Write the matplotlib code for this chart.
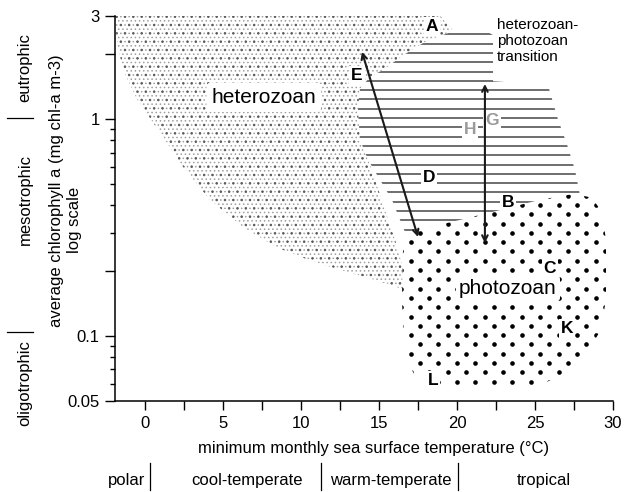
import numpy as np
import matplotlib
matplotlib.use("Agg")
import matplotlib.pyplot as plt
from matplotlib.patches import Polygon
from matplotlib.collections import LineCollection
from matplotlib.lines import Line2D
from matplotlib.ticker import FixedLocator, FixedFormatter, NullFormatter

plt.rcParams['font.family'] = ['Liberation Sans', 'DejaVu Sans']
plt.rcParams['hatch.linewidth'] = 0.6

# ---------------- data ----------------
x_major_ticks = [0, 5, 10, 15, 20, 25, 30]
x_minor_ticks = [2.5, 7.5, 12.5, 17.5, 22.5, 27.5]
y_major_ticks = [0.05, 0.1, 0.2, 1, 2, 3]
y_major_labels = ['0.05', '0.1', '', '1', '', '3']
y_minor_ticks = [0.06, 0.07, 0.08, 0.09, 0.3, 0.4, 0.5, 0.6, 0.7, 0.8, 0.9]

# heterozoan field (temperature, chlorophyll)
hetero_x = [-1.92, 18.91, 19.68, 16.03, 14.10, 16.03, 16.99, 15.90, 14.87, 12.69,
            10.58, 8.46, 6.28, 4.17, 2.44, 0.96, -0.51, -1.28, -1.73, -1.92]
hetero_y = [3.0, 3.0, 2.62, 1.307, 0.725, 0.277, 0.158, 0.171, 0.180, 0.200,
            0.223, 0.256, 0.318, 0.425, 0.604, 0.870, 1.239, 1.619, 2.117, 2.77]

# heterozoan-photozoan transition field
trans_x = [20.2, 21.6, 22.31, 22.31, 25.83, 26.47, 27.05, 27.56, 27.88, 26.6,
           18.27, 16.67, 15.83, 15.06, 14.29, 13.78, 13.65, 13.78, 14.42, 15.38,
           16.15, 16.99, 18.1]
trans_y = [2.62, 2.62, 2.45, 1.50, 1.44, 1.0, 0.766, 0.585, 0.448, 0.361,
           0.288, 0.301, 0.425, 0.526, 0.652, 0.807, 1.11, 1.38, 1.57, 1.71,
           1.88, 2.07, 2.31]

# photozoan field
photo_x = [16.67, 18.27, 20.19, 22.76, 25.32, 27.56, 28.65, 29.29, 29.55, 29.55,
           29.17, 28.21, 26.92, 25.32, 18.91, 17.31, 16.67, 16.47, 16.54]
photo_y = [0.301, 0.318, 0.343, 0.381, 0.425, 0.453, 0.434, 0.373, 0.277, 0.146,
           0.105, 0.0807, 0.0673, 0.0591, 0.0580, 0.0652, 0.0807, 0.146, 0.248]

# arrows: (x_start, y_start, x_end, y_end)
arrow_E = (13.91, 2.05, 17.5, 0.286)
arrow_G = (21.79, 1.456, 21.79, 0.268)

# site letters
letters = ['A', 'E', 'D', 'B', 'C', 'K', 'L']
letters_x = [18.4, 13.59, 18.21, 23.27, 25.96, 27.05, 18.46]
letters_y = [2.68, 1.585, 0.537, 0.411, 0.205, 0.108, 0.0624]
gray_letters = ['H', 'G']
gray_letters_x = [20.83, 22.24]
gray_letters_y = [0.898, 0.989]

climate_zones = ['polar', 'cool-temperate', 'warm-temperate', 'tropical']
trophic_levels = ['eutrophic', 'mesotrophic', 'oligotrophic']

# ---------------- figure ----------------
W, H = 627, 492
fig = plt.figure(figsize=(W / 100, H / 100), dpi=100)
ax = fig.add_axes([115 / W, 91 / H, 498 / W, 385 / H])
ax.set_yscale('log')
ax.set_xlim(-1.92, 30)
ax.set_ylim(0.05, 3)

for s in ['top', 'right']:
    ax.spines[s].set_visible(False)
for s in ['left', 'bottom']:
    ax.spines[s].set_linewidth(1.1)

# heterozoan stipple (overlaid hatches of different pitch)
het_xy = np.column_stack([hetero_x, hetero_y])
for hatch, col in [('....', '#a0a0a0'), ('..', '#5a5a5a')]:
    ax.add_patch(Polygon(het_xy, closed=True, facecolor='none', edgecolor=col,
                         lw=0, hatch=hatch, zorder=1))

# transition: white field with horizontal lines
tr = Polygon(np.column_stack([trans_x, trans_y]), closed=True,
             facecolor='white', edgecolor='none', zorder=2)
ax.add_patch(tr)
line_fy = (401 - 34.3 - 9.3 * np.arange(0, 24)) / 385.0
segs = [[(0, fy), (1, fy)] for fy in line_fy]
lc = LineCollection(segs, colors='#6e6e6e', linewidths=1.4,
                    transform=ax.transAxes, zorder=3)
ax.add_collection(lc)
lc.set_clip_path(tr)

# photozoan: white field with regular dots
ph = Polygon(np.column_stack([photo_x, photo_y]), closed=True,
             facecolor='white', edgecolor='none', zorder=4)
ax.add_patch(ph)
dx, dy = 18.5 / 498, 9.3 / 385
fx_list, fy_list = [], []
for k in range(-2, 26):
    fy = (401 - 195.6) / 385 - dy * k
    off = 0.0180 + (dx / 2 if k % 2 else 0)
    for j in range(-1, 29):
        fx_list.append(off + dx * j)
        fy_list.append(fy)
dots = ax.scatter(fx_list, fy_list, s=11, color='black', lw=0,
                  transform=ax.transAxes, zorder=5)
dots.set_clip_path(ph)

# arrows
for (x0, y0, x1, y1) in [arrow_E, arrow_G]:
    ax.annotate('', xy=(x1, y1), xytext=(x0, y0),
                arrowprops=dict(arrowstyle='<->', lw=1.5, color='#1a1a1a',
                                mutation_scale=10, shrinkA=0, shrinkB=0),
                zorder=8)

wbox = dict(boxstyle='square,pad=0.12', fc='white', ec='none')
for t, x, y in zip(letters, letters_x, letters_y):
    ax.text(x, y, t, fontsize=12.5, fontweight='bold', ha='center', va='center',
            bbox=wbox, zorder=7)
for t, x, y in zip(gray_letters, gray_letters_x, gray_letters_y):
    ax.text(x, y, t, fontsize=12.5, fontweight='bold', color='#9a9a9a',
            ha='center', va='center', bbox=wbox, zorder=7)

ax.text(7.63, 1.266, 'heterozoan', fontsize=15, ha='center', va='center',
        bbox=dict(boxstyle='round,pad=0.25', fc='white', ec='none'), zorder=7)
ax.text(23.27, 0.1655, 'photozoan', fontsize=15, ha='center', va='center',
        bbox=dict(boxstyle='round,pad=0.15', fc='white', ec='none'), zorder=7)
ax.text(22.56, 2.95, 'heterozoan-\nphotozoan\ntransition', fontsize=11,
        ha='left', va='top', linespacing=1.2,
        bbox=dict(boxstyle='square,pad=0.1', fc='white', ec='none'), zorder=7)

# ticks
ax.xaxis.set_major_locator(FixedLocator(x_major_ticks))
ax.xaxis.set_minor_locator(FixedLocator(x_minor_ticks))
ax.xaxis.set_minor_formatter(NullFormatter())
ax.yaxis.set_major_locator(FixedLocator(y_major_ticks))
ax.yaxis.set_major_formatter(FixedFormatter(y_major_labels))
ax.yaxis.set_minor_locator(FixedLocator(y_minor_ticks))
ax.yaxis.set_minor_formatter(NullFormatter())
ax.tick_params(axis='x', which='both', direction='out', length=6.5, width=1.0,
               labelsize=12, pad=4)
ax.tick_params(axis='y', which='major', direction='out', length=7, width=1.0,
               labelsize=12, pad=4)
ax.tick_params(axis='y', which='minor', direction='out', length=3.8, width=1.0)

# axis labels
def ftext(px, py, s, **kw):
    fig.text(px / W, 1 - py / H, s, **kw)

ftext(373.5, 449, 'minimum monthly sea surface temperature (°C)', fontsize=12,
      ha='center', va='center')
ftext(57, 191, 'average chlorophyll a (mg chl-a m-3)', fontsize=12,
      rotation=90, ha='center', va='center')
ftext(75, 220, 'log scale', fontsize=12, rotation=90, ha='center', va='center')

# climate zones below the axis
ftext(127, 480, climate_zones[0], fontsize=12, ha='center', va='center')
ftext(246.5, 480, climate_zones[1], fontsize=12, ha='center', va='center')
ftext(390.5, 480, climate_zones[2], fontsize=12, ha='center', va='center')
ftext(543.5, 480, climate_zones[3], fontsize=12, ha='center', va='center')
for bx in [150, 321, 458]:
    fig.add_artist(Line2D([bx / W, bx / W], [1 - 463 / H, 1 - 490 / H],
                          transform=fig.transFigure, color='black', lw=0.9))

# trophic levels at the left
ftext(25, 68, trophic_levels[0], fontsize=12, rotation=90, ha='center', va='center')
ftext(25, 199, trophic_levels[1], fontsize=12, rotation=90, ha='center', va='center')
ftext(25, 383, trophic_levels[2], fontsize=12, rotation=90, ha='center', va='center')
for by in [118, 332]:
    fig.add_artist(Line2D([7 / W, 33 / W], [1 - by / H, 1 - by / H],
                          transform=fig.transFigure, color='black', lw=0.9))

fig.savefig('out.png', dpi=100)
